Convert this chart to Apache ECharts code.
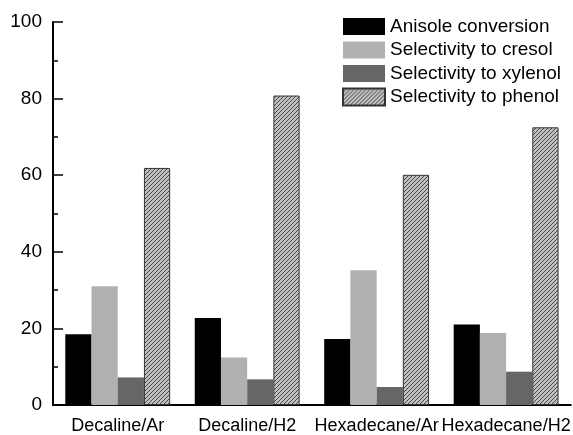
<!DOCTYPE html>
<html><head><meta charset="utf-8">
<script src="https://cdn.jsdelivr.net/npm/echarts@6/dist/echarts.min.js"></script>
<style>html,body{margin:0;padding:0;background:#fff}#c{width:573px;height:435px}</style>
</head><body><div id="c"></div>
<script>
var categories = ['Decaline/Ar', 'Decaline/H2', 'Hexadecane/Ar', 'Hexadecane/H2'];
var seriesNames = ['Anisole conversion', 'Selectivity to cresol', 'Selectivity to xylenol', 'Selectivity to phenol'];
var anisoleConversion = [18.5, 22.7, 17.2, 21.0];
var cresolSelectivity = [31.0, 12.4, 35.2, 18.8];
var xylenolSelectivity = [7.2, 6.7, 4.7, 8.7];
var phenolSelectivity = [61.9, 80.8, 60.1, 72.5];
var yTicks = [0, 20, 40, 60, 80, 100];

function hatch() {
  var n = 4;
  var c = document.createElement('canvas');
  c.width = n; c.height = n;
  var g = c.getContext('2d');
  g.fillStyle = '#c0c0c0';
  g.fillRect(0, 0, n, n);
  g.strokeStyle = '#484848';
  g.lineWidth = 1;
  g.beginPath();
  g.moveTo(-1, n + 1); g.lineTo(n + 1, -1);
  g.moveTo(-1, 1); g.lineTo(1, -1);
  g.moveTo(n - 1, n + 1); g.lineTo(n + 1, n - 1);
  g.stroke();
  return c;
}

var font = 'Liberation Sans, Arial, sans-serif';
var chart = echarts.init(document.getElementById('c'), null, {renderer: 'canvas'});
var colors = ['#000000', '#b0b0b0', '#666666', {image: hatch(), repeat: 'repeat'}];
var dataArr = [anisoleConversion, cresolSelectivity, xylenolSelectivity, phenolSelectivity];
var series = dataArr.map(function (d, i) {
  var s = {
    name: seriesNames[i], type: 'bar', data: d,
    barGap: '0%', barCategoryGap: '19%',
    itemStyle: {color: colors[i]}
  };
  if (i === 3) { s.itemStyle.borderColor = '#333'; s.itemStyle.borderWidth = 1; }
  return s;
});
chart.setOption({
  animation: false,
  grid: {left: 53, top: 22, bottom: 27, right: -3, containLabel: false},
  legend: {
    orient: 'vertical', left: 337, top: 12,
    icon: 'rect', itemWidth: 42, itemHeight: 17, itemGap: 4.5,
    textStyle: {fontFamily: font, fontSize: 19, color: '#000'},
    data: seriesNames
  },
  xAxis: {
    type: 'category', data: categories,
    axisLine: {lineStyle: {color: '#000', width: 2}},
    axisTick: {show: false},
    axisLabel: {fontFamily: font, fontSize: 18, color: '#000', margin: 12, interval: 0}
  },
  yAxis: {
    type: 'value', min: yTicks[0], max: yTicks[yTicks.length - 1], interval: 20,
    axisLine: {show: true, lineStyle: {color: '#000', width: 2}},
    axisTick: {show: true, inside: true, length: 10, lineStyle: {color: '#000', width: 1.5}},
    minorTick: {show: true, splitNumber: 2, length: 5, lineStyle: {color: '#000', width: 1.5}},
    splitLine: {show: false},
    axisLabel: {fontFamily: font, fontSize: 19, color: '#000', margin: 11}
  },
  series: series
});
</script></body></html>
